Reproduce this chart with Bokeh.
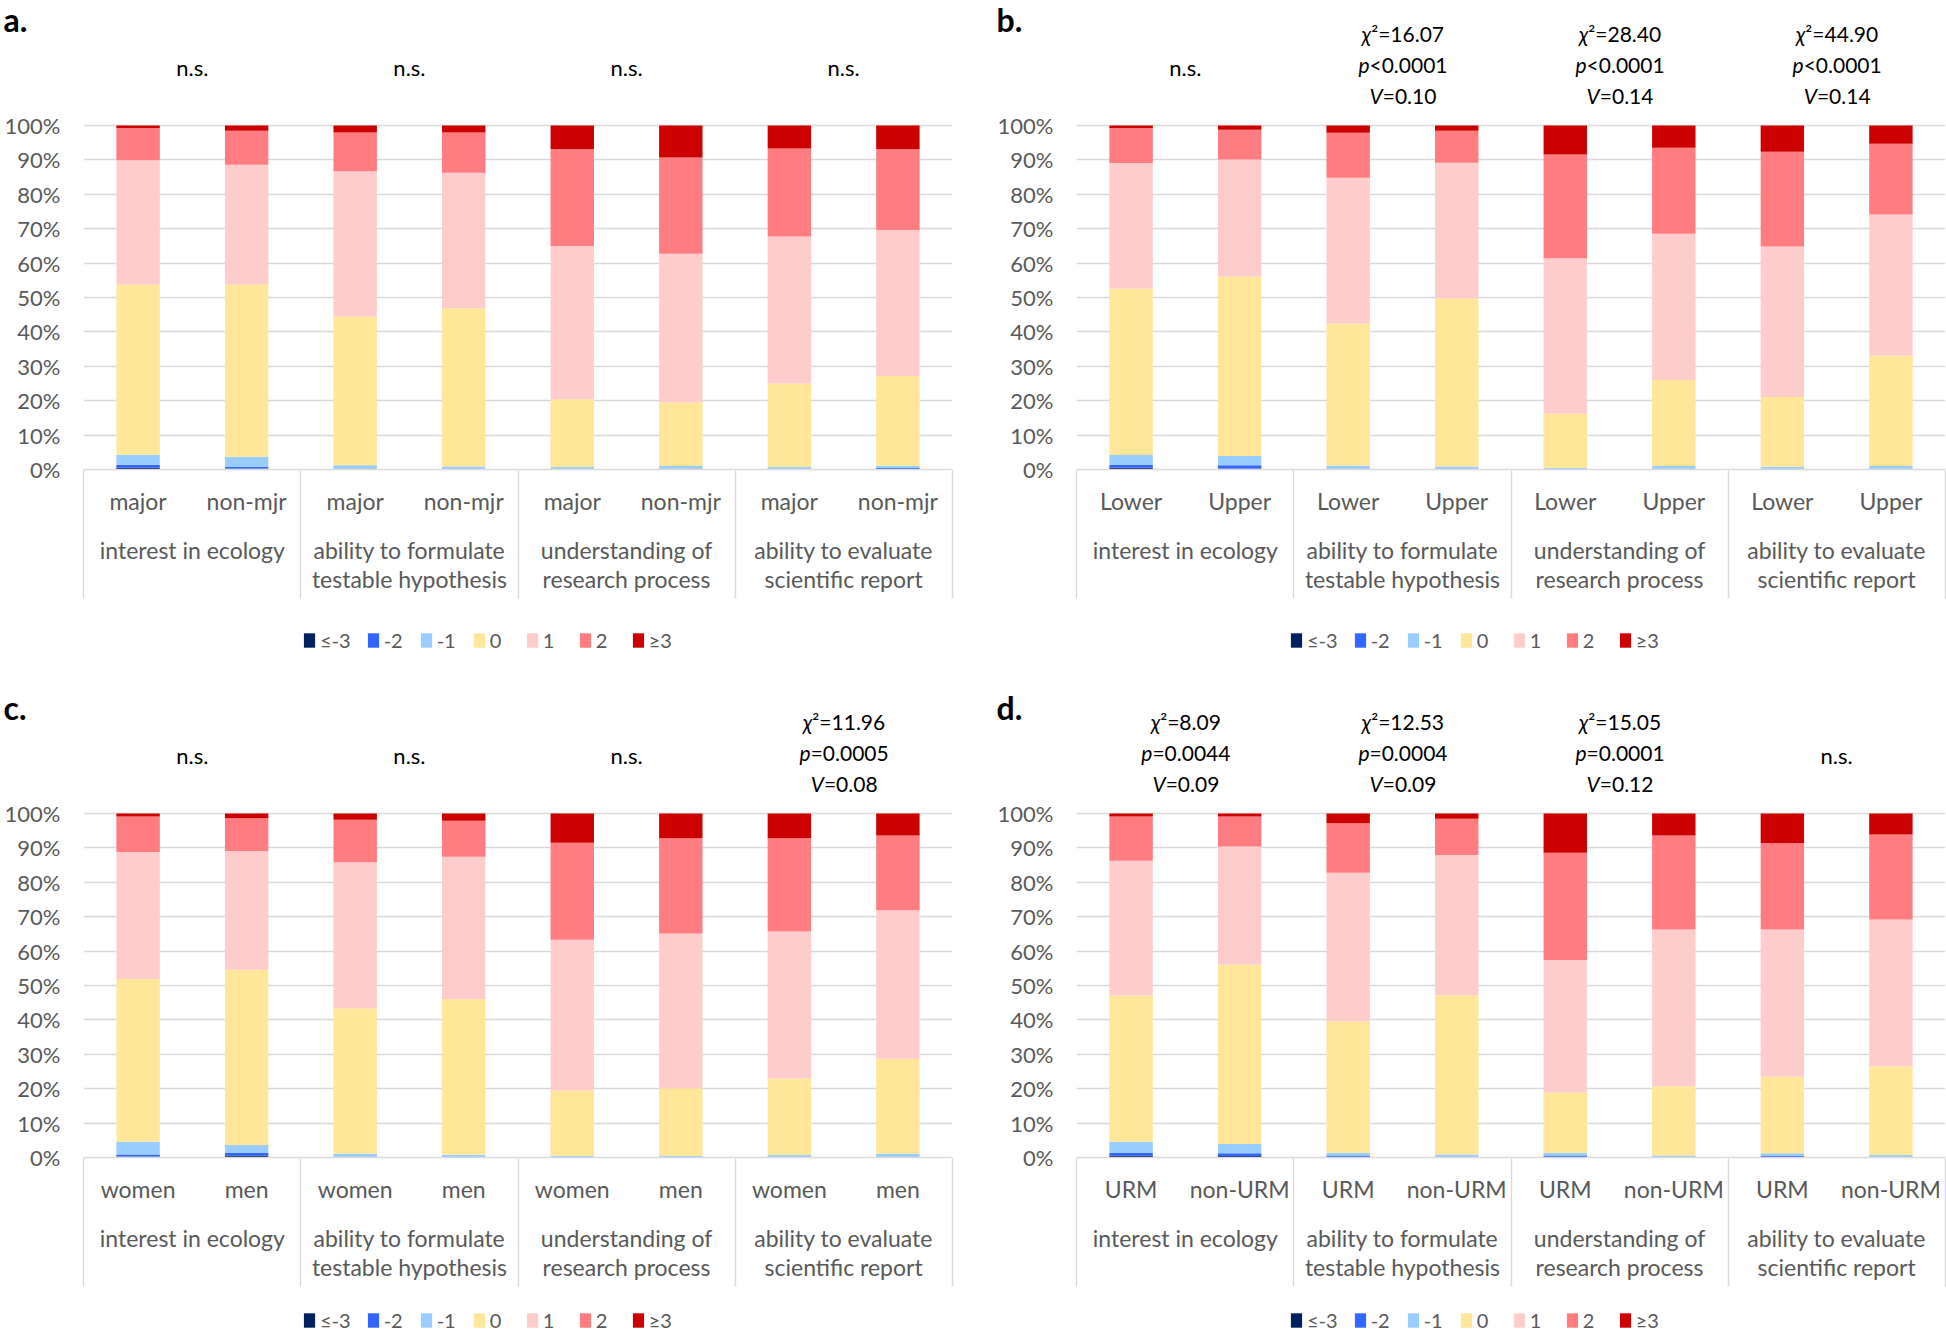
from bokeh.plotting import figure
from bokeh.models import (ColumnDataSource, FixedTicker, NumeralTickFormatter,
                          LinearAxis, Legend, LegendItem, Title, Range1d)
from bokeh.layouts import column, row
from bokeh.embed import file_html
from bokeh.resources import INLINE
from bokeh.core.properties import value

FONT = "Lato"
GRAY = "#595959"
GRID = "#D9D9D9"

levels = ["≤-3", "-2", "-1", "0", "1", "2", "≥3"]
level_colors = ["#002060", "#3366FF", "#99CCFF", "#FFE699", "#FFCCCC", "#FF7C80", "#CC0000"]

groups = ["interest in ecology", "ability to formulate\ntestable hypothesis",
          "understanding of\nresearch process", "ability to evaluate\nscientific report"]

y_ticks = [0, 0.1, 0.2, 0.3, 0.4, 0.5, 0.6, 0.7, 0.8, 0.9, 1.0]

# ---- panel a: majors vs non-majors (percent) ----
a_subgroups = ["major", "non-mjr"]
a_n3 = [0.5, 0.2, 0, 0, 0, 0, 0, 0]
a_n2 = [0.9, 0.6, 0.1, 0.1, 0, 0.1, 0, 0.4]
a_n1 = [2.9, 2.9, 1.1, 0.8, 0.7, 0.9, 0.7, 0.7]
a_z = [49.5, 50.1, 43.3, 46.0, 19.7, 18.5, 24.3, 26.1]
a_p1 = [36.1, 34.8, 42.2, 39.4, 44.6, 43.2, 42.7, 42.4]
a_p2 = [9.4, 9.9, 11.3, 11.7, 28.2, 28.0, 25.6, 23.6]
a_p3 = [0.7, 1.5, 2.0, 2.0, 6.8, 9.3, 6.7, 6.8]
a_notes = ["n.s.", "n.s.", "n.s.", "n.s."]

# ---- panel b: lower vs upper ----
b_subgroups = ["Lower", "Upper"]
b_n3 = [0.5, 0.2, 0, 0, 0, 0, 0, 0]
b_n2 = [0.8, 1.0, 0.1, 0, 0, 0, 0, 0]
b_n1 = [2.9, 2.7, 1.0, 0.9, 0.5, 1.0, 0.8, 1.0]
b_z = [48.4, 52.2, 41.3, 48.9, 15.7, 25.0, 20.3, 32.1]
b_p1 = [36.5, 34.0, 42.4, 39.4, 45.2, 42.5, 43.7, 41.0]
b_p2 = [10.2, 8.7, 13.1, 9.3, 30.2, 25.0, 27.6, 20.6]
b_p3 = [0.7, 1.2, 2.1, 1.5, 8.4, 6.5, 7.6, 5.3]
b_notes = ["n.s.", ("16.07", "<0.0001", "0.10"), ("28.40", "<0.0001", "0.14"),
           ("44.90", "<0.0001", "0.14")]

# ---- panel c: women vs men ----
c_subgroups = ["women", "men"]
c_n3 = [0.2, 0.6, 0, 0, 0, 0, 0, 0]
c_n2 = [0.7, 0.7, 0.1, 0, 0, 0, 0, 0]
c_n1 = [3.7, 2.3, 1.0, 0.8, 0.5, 0.5, 0.7, 1.1]
c_z = [47.3, 51.0, 42.3, 45.2, 19.0, 19.6, 22.3, 27.6]
c_p1 = [36.9, 34.5, 42.4, 41.4, 43.8, 45.0, 42.7, 43.2]
c_p2 = [10.3, 9.5, 12.4, 10.5, 28.2, 27.7, 27.1, 21.7]
c_p3 = [0.9, 1.4, 1.8, 2.1, 8.5, 7.2, 7.2, 6.4]
c_notes = ["n.s.", "n.s.", "n.s.", ("11.96", "=0.0005", "0.08")]

# ---- panel d: URM vs non-URM ----
d_subgroups = ["URM", "non-URM"]
d_n3 = [0.6, 0.4, 0.1, 0, 0.1, 0, 0, 0]
d_n2 = [0.7, 0.8, 0.5, 0.1, 0.5, 0, 0.4, 0]
d_n1 = [3.3, 2.7, 0.8, 0.8, 0.8, 0.6, 0.8, 0.7]
d_z = [42.5, 52.1, 38.1, 46.3, 17.4, 20.1, 22.3, 25.8]
d_p1 = [39.2, 34.4, 43.3, 40.7, 38.6, 45.6, 42.8, 42.7]
d_p2 = [12.8, 8.7, 14.4, 10.6, 31.2, 27.3, 25.1, 24.7]
d_p3 = [0.9, 0.9, 2.8, 1.5, 11.4, 6.4, 8.6, 6.1]
d_notes = [("8.09", "=0.0044", "0.09"), ("12.53", "=0.0004", "0.09"),
           ("15.05", "=0.0001", "0.12"), "n.s."]

# ---- layout constants ----
PX_PER_UNIT = 344
FRAME_H = 447
Y_END = FRAME_H / PX_PER_UNIT
FRAME_W = 869
AX_FS = "23px"
NOTE_FS = "21px"
NOTE_PX = 21

CW = {"χ": 0.53, "²": 0.38, "p": 0.57, "V": 0.67, ".": 0.23, "<": 0.58, "=": 0.58}


def tw(s, size=NOTE_PX):
    return sum(CW.get(ch, 0.58) for ch in s) * size


def note_line(p, gx, y, lead, rest):
    off = (tw(lead) - tw(rest)) / 2.0
    p.text(x=[gx], y=[y], text=[lead], x_offset=off, text_align="right",
           text_baseline="middle", text_font=value(FONT), text_font_size=NOTE_FS,
           text_font_style="italic", text_color="black")
    p.text(x=[gx], y=[y], text=[rest], x_offset=off, text_align="left",
           text_baseline="middle", text_font=value(FONT), text_font_size=NOTE_FS,
           text_color="black")


def make_panel(letter, subs, series, notes, mb_top, mb_bottom, mb_left, mb_right):
    n = len(groups) * len(subs)
    xs = [i + 0.5 for i in range(n)]
    data = {"x": xs}
    keys = []
    for k, vals in enumerate(series):
        key = "s%d" % k
        keys.append(key)
        data[key] = [v / 100.0 for v in vals]
    src = ColumnDataSource(data)

    p = figure(frame_width=FRAME_W, frame_height=FRAME_H,
               x_range=Range1d(-0.003, n + 0.003), y_range=Range1d(0, Y_END),
               x_axis_type=None, output_backend="svg", toolbar_location=None,
               min_border_top=mb_top, min_border_bottom=mb_bottom,
               min_border_left=mb_left, min_border_right=mb_right,
               background_fill_color="white", border_fill_color="white")
    p.outline_line_color = None

    p.title = Title(text=letter, align="left", offset=-80, vertical_align="middle",
                    standoff=-34, text_font=FONT, text_font_size="32px",
                    text_font_style="bold", text_color="black")

    p.vbar_stack(keys, x="x", width=0.4, fill_color=level_colors,
                 line_color=None, source=src)

    # y axis
    yt = FixedTicker(ticks=y_ticks)
    ya = p.yaxis[0]
    ya.ticker = yt
    ya.formatter = NumeralTickFormatter(format="0%")
    ya.axis_line_color = None
    ya.major_tick_line_color = None
    ya.minor_tick_line_color = None
    ya.major_tick_out = 0
    ya.major_label_text_font = FONT
    ya.major_label_text_font_size = "22px"
    ya.major_label_text_color = GRAY
    ya.major_label_standoff = 23
    p.ygrid.ticker = yt
    p.ygrid.grid_line_color = GRID
    p.ygrid.grid_line_width = 1.4

    # subgroup labels
    sub_labels = {}
    for i, x in enumerate(xs):
        sub_labels[x] = subs[i % len(subs)]
    ax1 = LinearAxis(ticker=FixedTicker(ticks=xs),
                     major_label_overrides=sub_labels)
    ax1.axis_line_color = GRID
    ax1.axis_line_width = 1.4
    ax1.major_tick_line_color = None
    ax1.minor_tick_line_color = None
    ax1.major_tick_out = 0
    ax1.major_tick_in = 0
    ax1.minor_tick_out = 0
    ax1.minor_tick_in = 0
    ax1.major_label_text_font = FONT
    ax1.major_label_text_font_size = AX_FS
    ax1.major_label_text_color = GRAY
    ax1.major_label_standoff = 17
    p.add_layout(ax1, "below")

    # group labels
    centers = [len(subs) * i + len(subs) / 2.0 for i in range(len(groups))]
    ax2 = LinearAxis(ticker=FixedTicker(ticks=centers),
                     major_label_overrides={c: g for c, g in zip(centers, groups)})
    ax2.axis_line_color = None
    ax2.major_tick_line_color = None
    ax2.minor_tick_line_color = None
    ax2.major_tick_out = 0
    ax2.major_tick_in = 0
    ax2.minor_tick_out = 0
    ax2.minor_tick_in = 0
    ax2.major_label_text_font = FONT
    ax2.major_label_text_font_size = AX_FS
    ax2.major_label_text_line_height = 1.05
    ax2.major_label_text_color = GRAY
    ax2.major_label_standoff = 18
    p.add_layout(ax2, "below")

    # group separators: long inward minor ticks of an unlabeled axis
    seps = [i * len(subs) for i in range(len(groups) + 1)]
    ax3 = LinearAxis(ticker=FixedTicker(ticks=[], minor_ticks=seps))
    ax3.axis_line_color = None
    ax3.major_tick_line_color = None
    ax3.major_tick_out = 4
    ax3.major_tick_in = 0
    ax3.minor_tick_line_color = GRID
    ax3.minor_tick_line_width = 1.4
    ax3.minor_tick_in = 125
    ax3.minor_tick_out = 3
    ax3.major_label_standoff = 0
    p.add_layout(ax3, "below")

    # significance notes above each group
    for gx, note in zip(centers, notes):
        if isinstance(note, str):
            p.text(x=[gx], y=[1.17], text=[note], text_align="center",
                   text_baseline="middle", text_font=value(FONT),
                   text_font_size="22px", text_color="black")
        else:
            chi, pv, vv = note
            note_line(p, gx, 1.268, "χ", "²=" + chi)
            note_line(p, gx, 1.176, "p", pv)
            note_line(p, gx, 1.086, "V", "=" + vv)
    return p, src, keys


def make_legend(src, keys, mb_left, mb_right, fh, lx, ly):
    # legend strip: same series, y range kept above the data so only the key shows
    lf = figure(frame_width=FRAME_W, frame_height=fh,
                x_range=Range1d(0, 8), y_range=Range1d(2, 3),
                x_axis_type=None, y_axis_type=None,
                output_backend="svg", toolbar_location=None,
                min_border_top=0, min_border_bottom=0,
                min_border_left=mb_left, min_border_right=mb_right,
                background_fill_color="white", border_fill_color="white")
    lf.outline_line_color = None
    rs = lf.vbar_stack(keys, x="x", width=0.4, fill_color=level_colors,
                       line_color=None, source=src)
    items = [LegendItem(label=lv, renderers=[r]) for lv, r in zip(levels, rs)]
    leg = Legend(items=items, orientation="horizontal", location=(lx, ly),
                 margin=0, padding=0, spacing=15, label_standoff=4,
                 glyph_width=14, glyph_height=18,
                 label_text_font=FONT, label_text_font_size="20px",
                 label_text_color=GRAY, border_line_color=None,
                 background_fill_alpha=0)
    lf.add_layout(leg)
    return lf


pa, sa, ka = make_panel("a.", a_subgroups, [a_n3, a_n2, a_n1, a_z, a_p1, a_p2, a_p3],
                        a_notes, 22, 152, 83, 41)
pb, sb, kb = make_panel("b.", b_subgroups, [b_n3, b_n2, b_n1, b_z, b_p1, b_p2, b_p3],
                        b_notes, 22, 152, 83, 1)
la = make_legend(sa, ka, 83, 41, 36, 219, 5)
lb = make_legend(sb, kb, 83, 1, 36, 213, 5)
pc, sc, kc = make_panel("c.", c_subgroups, [c_n3, c_n2, c_n1, c_z, c_p1, c_p2, c_p3],
                        c_notes, 53, 148, 83, 41)
pd, sd, kd = make_panel("d.", d_subgroups, [d_n3, d_n2, d_n1, d_z, d_p1, d_p2, d_p3],
                        d_notes, 53, 148, 83, 1)
lc = make_legend(sc, kc, 83, 41, 30, 219, 3)
ld = make_legend(sd, kd, 83, 1, 30, 213, 3)

layout = column(row(pa, pb), row(la, lb), row(pc, pd), row(lc, ld))
open("out.html", "w").write(file_html(layout, INLINE))
